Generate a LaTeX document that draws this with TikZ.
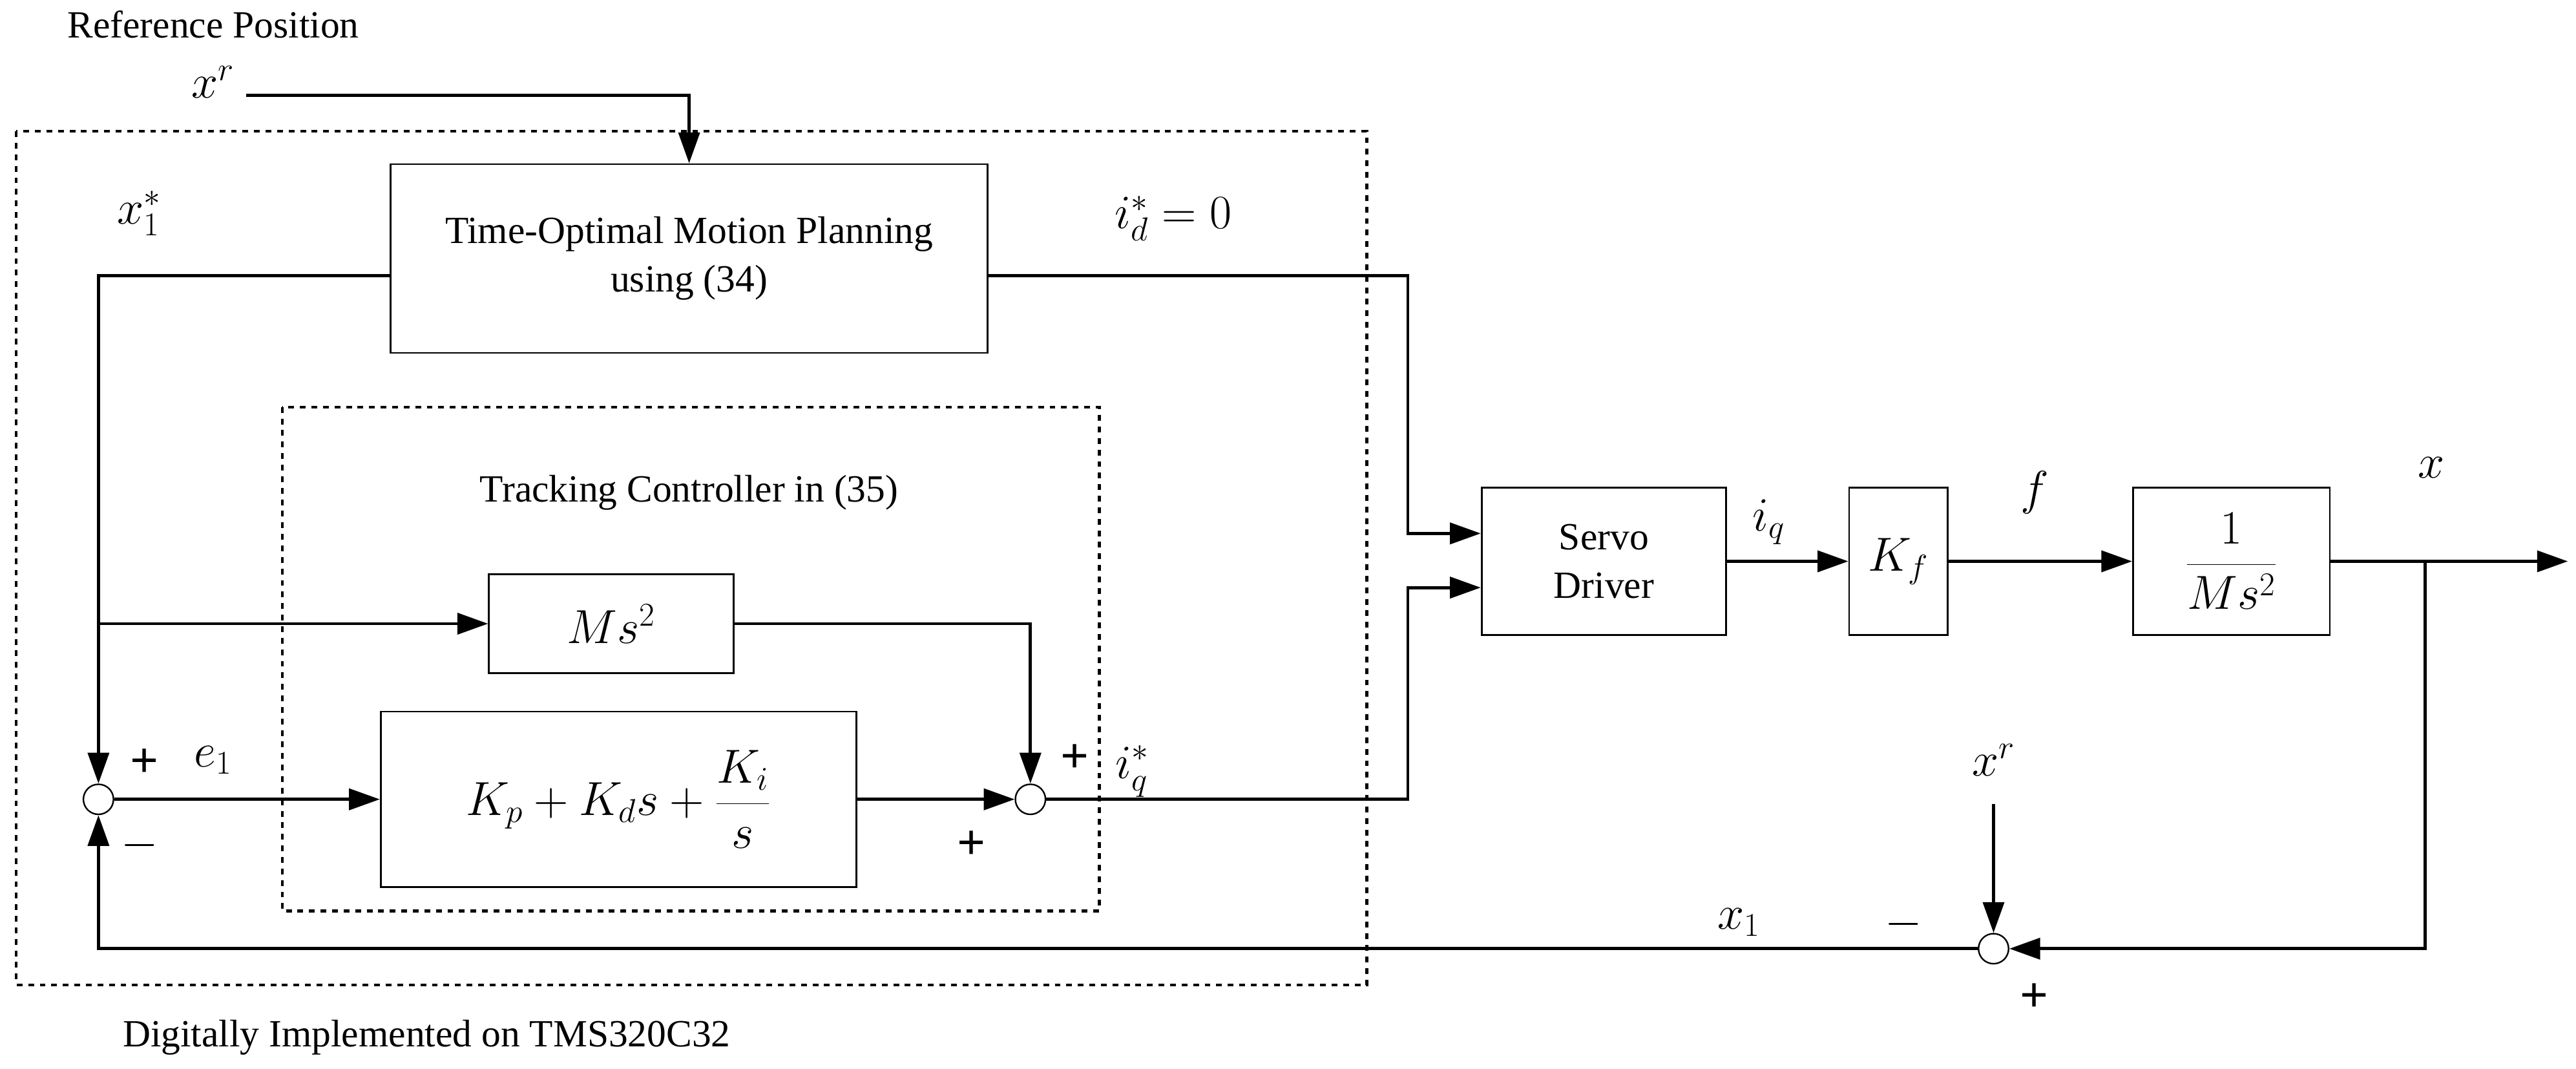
\documentclass[tikz,border=0pt]{standalone}
\usepackage{fontspec}
\setmainfont{Liberation Serif}
\usetikzlibrary{arrows.meta}
\begin{document}
\begin{tikzpicture}[x=0.03cm,y=-0.03cm,
  blk/.style={draw,line width=0.9pt,inner sep=0},
  ln/.style={line width=1.6pt},
  ar/.style={ln,-{Triangle[length=16pt,width=11pt]}},
  sm/.style={circle,draw,line width=0.8pt,minimum size=0.55cm,inner sep=0},
  dsh/.style={draw,dashed,line width=1.4pt},
  txt/.style={font=\fontsize{20}{25}\selectfont},
  mth/.style={font=\fontsize{26}{30}\selectfont},
  sg/.style={font=\fontsize{26}{30}\selectfont\bfseries}]
\useasboundingbox (0,0) rectangle (1570,651);
\draw[dsh] (10,80) rectangle (833,600);
\draw[dsh] (172,248) rectangle (670,555);
\node[txt] (ref) at (130,15) {Reference Position};
\node[txt] (dig) at (260,632) {Digitally Implemented on TMS320C32};
\node[txt] (trk) at (420,300) {Tracking Controller in (35)};
\node[blk,minimum width=364*0.03cm,minimum height=115*0.03cm,align=center,txt] (plan) at (420,157.5) {Time-Optimal Motion Planning\\using (34)};
\node[blk,minimum width=149*0.03cm,minimum height=60*0.03cm,mth] (ms) at (372.5,380) {$Ms^2$};
\node[blk,minimum width=290*0.03cm,minimum height=107*0.03cm,mth] (pid) at (377,487) {$\displaystyle K_p+K_ds+\frac{K_i}{s}$};
\node[blk,minimum width=149*0.03cm,minimum height=90*0.03cm,align=center,txt] (sd) at (977.5,342) {Servo\\Driver};
\node[blk,minimum width=60*0.03cm,minimum height=90*0.03cm,mth] (kf) at (1157,342) {$K_f$};
\node[blk,minimum width=120*0.03cm,minimum height=90*0.03cm,mth] (pl) at (1360,342) {$\displaystyle\frac{1}{Ms^2}$};
\node[sm] (s1) at (60,487) {};
\node[sm] (s2) at (628,487) {};
\node[sm] (s3) at (1215,578) {};
\coordinate (xr0) at (150,58);
\coordinate (xout) at (1565,342);
\coordinate (xr2) at (1215,490);
\node[mth] (lxr) at (130,50) {$x^r$};
\node[mth] (lx1s) at (85,130) {$x_1^*$};
\node[mth] (lid) at (715,133) {$i_d^*=0$};
\node[mth] (le1) at (130,463) {$e_1$};
\node[mth] (liq) at (690,470) {$i_q^*$};
\node[mth] (liq2) at (1078,318) {$i_q$};
\node[mth] (lf) at (1240,300) {$f$};
\node[mth] (lx) at (1482,285) {$x$};
\node[mth] (lxr2) at (1215,463) {$x^r$};
\node[mth] (lx1) at (1060,562) {$x_1$};
\node[sg] at (88,465) {+};
\node[sg] at (85,515) {$-$};
\node[sg] at (655,462) {+};
\node[sg] at (592,515) {+};
\node[sg] at (1160,563) {$-$};
\node[sg] at (1240,608) {+};
\draw[ar] (xr0) -| (plan.north);
\draw[ar] (plan.west|-0,168) -| (s1.north);
\draw[ar] (plan.east|-0,168) -- (858,168) |- (sd.west|-0,325);
\draw[ar] (60,380) -- (ms.west);
\draw[ar] (ms.east) -| (s2.north);
\draw[ar] (s1.east) -- (pid.west);
\draw[ar] (pid.east) -- (s2.west);
\draw[ar] (s2.east) -- (858,487) |- (sd.west|-0,358);
\draw[ar] (sd.east) -- (kf.west);
\draw[ar] (kf.east) -- (pl.west);
\draw[ar] (pl.east) -- (xout);
\draw[ar] (1478,342) |- (s3.east);
\draw[ar] (xr2) -- (s3.north);
\draw[ar] (s3.west) -| (s1.south);
\end{tikzpicture}
\end{document}
